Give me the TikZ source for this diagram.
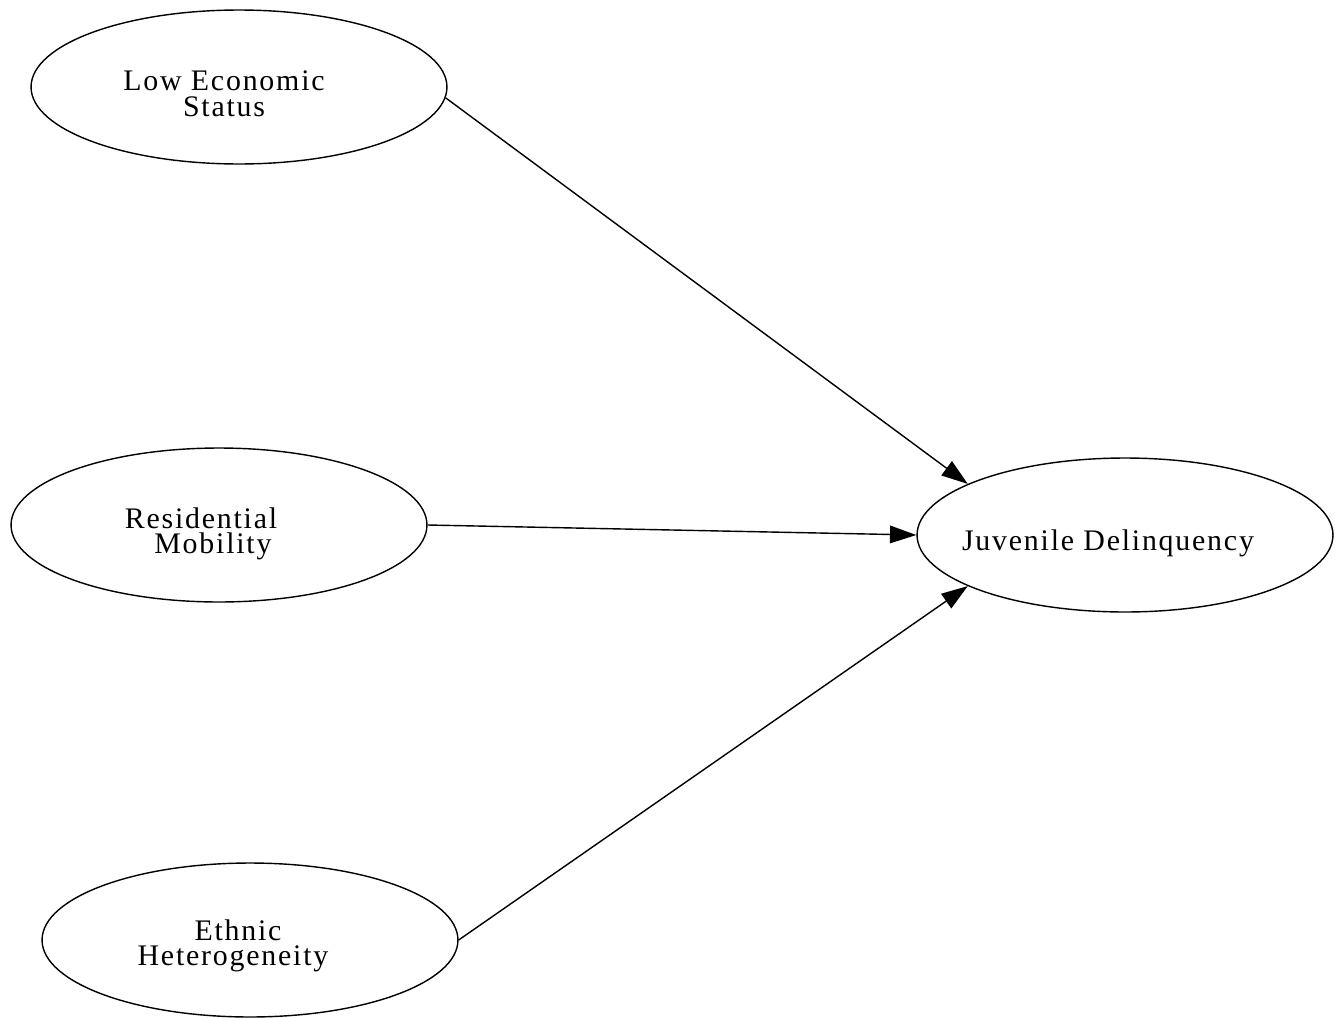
\documentclass[tikz,border=0pt]{standalone}
\usepackage{fontspec}
\newfontfamily\lblfont{Liberation Serif}[LetterSpace=6]
\usetikzlibrary{shapes.geometric,arrows.meta}
\tikzset{
  construct/.style={ellipse, draw, line width=0.8pt, minimum width=8.32cm, minimum height=3.08cm, inner sep=0pt},
  lbl/.style={font=\lblfont\fontsize{17pt}{14.6pt}\selectfont, align=center, inner sep=0pt},
  path/.style={line width=0.8pt, -{Triangle[length=15pt,width=10pt]}}
}
\begin{document}
\begin{tikzpicture}[x=0.02cm, y=-0.02cm]
  \useasboundingbox (0,0) rectangle (1336,1018);
  % latent constructs
  \node[construct] (les) at (239,87) {};
  \node[construct] (rm)  at (219,525) {};
  \node[construct] (eh)  at (250,940) {};
  \node[construct] (jd)  at (1125,535) {};
  % labels
  \node[lbl] (lesT) at (224,94) {Low Economic\\Status};
  \node[lbl] (rmT)  at (201,534) {Residential\\\hspace*{13.6pt}Mobility};
  \node[lbl] (ehT)  at (233,946) {\hspace*{5.7pt}Ethnic\\Heterogeneity};
  \node[lbl] (jdT)  at (1108,543) {Juvenile Delinquency};
  % paths
  \draw[path] (les.-3) -- (jd.162);
  \draw[path] (rm.east) -- (jd.west);
  \draw[path] (eh.east) -- (jd.198);
\end{tikzpicture}
\end{document}
